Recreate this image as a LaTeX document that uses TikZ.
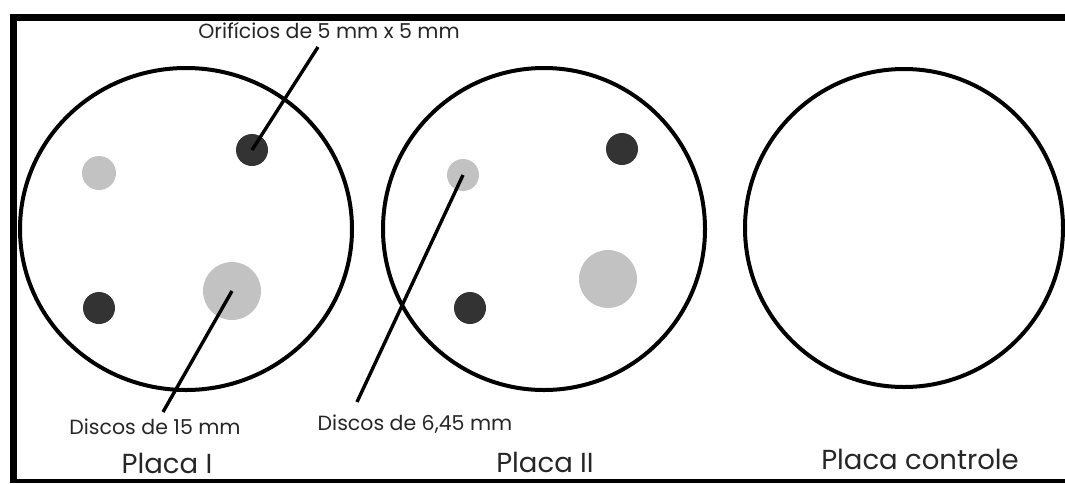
\documentclass[tikz,border=0pt]{standalone}
\usepackage{fontspec}
\setmainfont{Poppins}
\usepackage{xcolor}
\definecolor{furo}{HTML}{333333}
\definecolor{disco}{HTML}{C2C2C2}
\tikzset{
  placa/.style={line width=4pt, black},
  leader/.style={line width=3.4pt, black},
  rotulo/.style={inner sep=0pt, font=\fontsize{20.5}{20.5}\selectfont, text=black!85},
  titulo/.style={inner sep=0pt, font=\fontsize{27.5}{27.5}\selectfont, text=black!85}
}
\begin{document}
\begin{tikzpicture}[x=1pt, y=-1pt]
        \useasboundingbox (0,0) rectangle (1065,483);

        % Frame (left, top and bottom edges)
        \fill[black] (10,14) rectangle (1065,21);
        \fill[black] (10,14) rectangle (17,483);
        \fill[black] (10,479) rectangle (1065,483);

        % Centres of the three plates
        \coordinate (P1) at (186, 229);  % Placa I
        \coordinate (P2) at (544, 229);  % Placa II
        \coordinate (P3) at (904, 228);  % Placa controle

        % Discs and holes, plate I
        \coordinate (A1) at (252, 150);  % hole, top right
        \coordinate (A2) at (99, 173);   % small disc
        \coordinate (A3) at (99, 308);   % hole, bottom left
        \coordinate (A4) at (232, 291);  % large disc

        % Discs and holes, plate II
        \coordinate (B1) at (463, 175);  % small disc
        \coordinate (B2) at (622, 149);  % hole, top right
        \coordinate (B3) at (608, 279);  % large disc
        \coordinate (B4) at (470, 308);  % hole, bottom left

        % Free ends of the leader lines
        \coordinate (T1) at (318, 47);
        \coordinate (T2) at (163, 412);
        \coordinate (T3) at (357, 402);

        % Fill discs and holes
        \fill[disco] (A2) circle (17);
        \fill[disco] (A4) circle (29);
        \fill[disco] (B1) circle (16);
        \fill[disco] (B3) circle (29);
        \fill[furo] (A1) circle (16);
        \fill[furo] (A3) circle (16);
        \fill[furo] (B2) circle (16);
        \fill[furo] (B4) circle (16);

        % Draw plates
        \draw[placa] (P1) ellipse (166 and 161);
        \draw[placa] (P2) circle (161);
        \draw[placa] (P3) circle (159);

        % Labels
        \node[rotulo] (orif) at (329, 31) {Orifícios de 5 mm x 5 mm};
        \node[rotulo] (d15) at (155, 427) {Discos de 15 mm};
        \node[rotulo] (d645) at (415, 424) {Discos de 6,45 mm};
        \node[titulo] (pI) at (167, 463) {Placa I};
        \node[titulo] (pII) at (545, 462) {Placa II};
        \node[titulo] (pC) at (920, 459) {Placa controle};

        % Leader lines
        \draw[leader] (A1) -- (T1);
        \draw[leader] (A4) -- (T2);
        \draw[leader] (B1) -- (T3);

\end{tikzpicture}
\end{document}
